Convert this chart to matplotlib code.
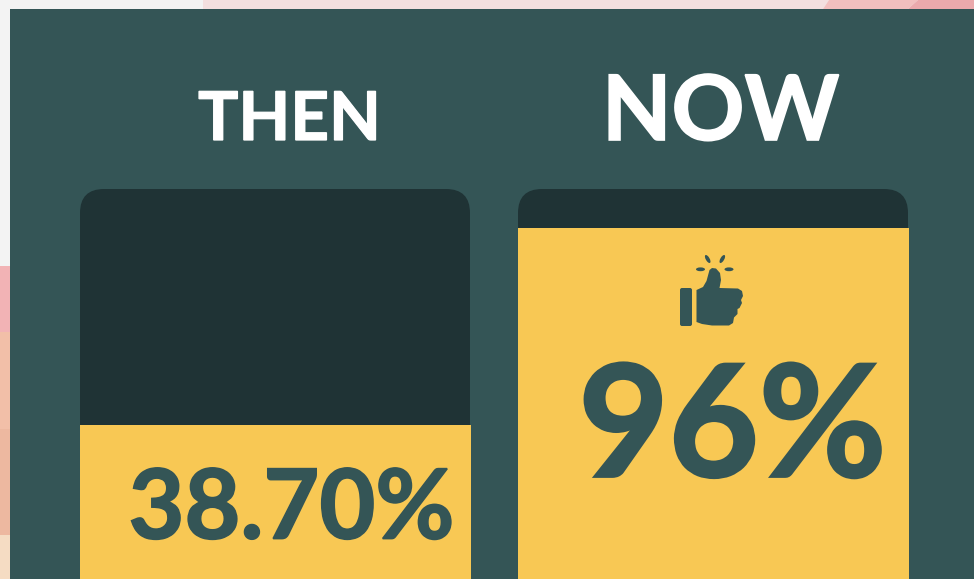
"""THEN / NOW infographic: two gauge bars on a dark panel."""
import matplotlib; matplotlib.use("Agg")
import matplotlib.pyplot as plt
import matplotlib.patheffects as pe
from matplotlib.patches import Rectangle, Polygon, Ellipse, FancyBboxPatch

periods = ["THEN", "NOW"]
values = [38.7, 96]
value_labels = ["38.70%", "96%"]

PANEL = "#345556"; TRACK = "#1f3335"; YELLOW = "#f8c854"
W, H = 974, 579
plt.rcParams["font.family"] = ["Lato", "DejaVu Sans"]

fig = plt.figure(figsize=(W / 100, H / 100), dpi=100, facecolor="#f3f3f3")

# ---- background and panel, in pixel coordinates ----
bg = fig.add_axes([0, 0, 1, 1]); bg.set_xlim(0, W); bg.set_ylim(H, 0); bg.axis("off")
bg.add_patch(Polygon([(203, 0), (829, 0), (823, 9), (203, 9)], color="#f3dfdf", lw=0))
bg.add_patch(Polygon([(829, 0), (918, 0), (908, 9), (823, 9)], color="#f2bfbe", lw=0))
bg.add_patch(Polygon([(918, 0), (W, 0), (W, 9), (908, 9)], color="#eba9ac", lw=0))
for y0, y1, c in [(266, 332, "#f2b3b5"), (332, 429, "#f2bfa8"), (429, 535, "#edb8a0"), (535, H, "#f5dcc3")]:
    bg.add_patch(Rectangle((0, y0), 10, y1 - y0, color=c, lw=0))
bg.add_patch(Rectangle((10, 9), W - 10, H - 9, color=PANEL, lw=0))
for x0 in (80, 518):
    bg.add_patch(FancyBboxPatch((x0 + 24, 213), 390 - 48, 500, boxstyle="round,pad=24,rounding_size=24",
                                color=TRACK, lw=0))

# ---- value bars on their own scale ----
px_per_unit = (425 - 228) / (values[1] - values[0])
zero_px = 228 + values[1] * px_per_unit
ax = fig.add_axes([0, 0, 1, 1]); ax.patch.set_alpha(0); ax.axis("off")
step = 713.5 - 275
ax.set_xlim(-275 / step, (W - 275) / step)
ax.set_ylim((zero_px - H) / px_per_unit, zero_px / px_per_unit)
ymin = ax.get_ylim()[0]
ax.bar(range(len(values)), [v - ymin for v in values], bottom=ymin, width=391 / step, color=YELLOW, lw=0)

# ---- text, on top of the bars ----
top = fig.add_axes([0, 0, 1, 1]); top.patch.set_alpha(0)
top.set_xlim(0, W); top.set_ylim(H, 0); top.axis("off")


def heavy(x, y, s, color, size, stroke):
    t = top.text(x, y, s, color=color, fontsize=size, fontweight="bold", ha="left", va="baseline")
    t.set_path_effects([pe.withStroke(linewidth=stroke, foreground=color, joinstyle="miter")])


heavy(198, 140, periods[0], "white", 48.5, 0.9)
heavy(602, 140, periods[1], "white", 65, 1.2)
heavy(128.5, 538.5, value_labels[0], PANEL, 69.5, 1.3)
heavy(578.5, 476.5, value_labels[1], PANEL, 112, 2)

# ---- thumbs-up icon ----
top.add_patch(FancyBboxPatch((682, 290), 8, 34, boxstyle="round,pad=2,rounding_size=2", color=PANEL, lw=0))
hand = [(696.5, 290), (703, 287), (706.5, 281), (709.5, 270), (712, 268), (716, 268.5), (720, 273), (721, 280),
        (719.5, 288), (738, 288.5), (742, 291), (743, 296), (741, 300), (742, 303), (739.5, 308), (737.5, 309),
        (737.5, 314), (734, 317.5), (733, 323), (729, 325.5), (712, 325.5), (702, 324), (696.5, 322)]
top.add_patch(Polygon(hand, closed=True, color=PANEL, lw=0))
for cx, cy, w, h, a in [(700.5, 269.3, 9, 3.8, 0), (707.7, 259, 9, 3.8, 60), (722.3, 259, 9, 3.8, -60), (729, 269.3, 9, 3.8, 0)]:
    top.add_patch(Ellipse((cx, cy), w, h, angle=a, color=PANEL, lw=0))

fig.savefig("out.png", dpi=100)
